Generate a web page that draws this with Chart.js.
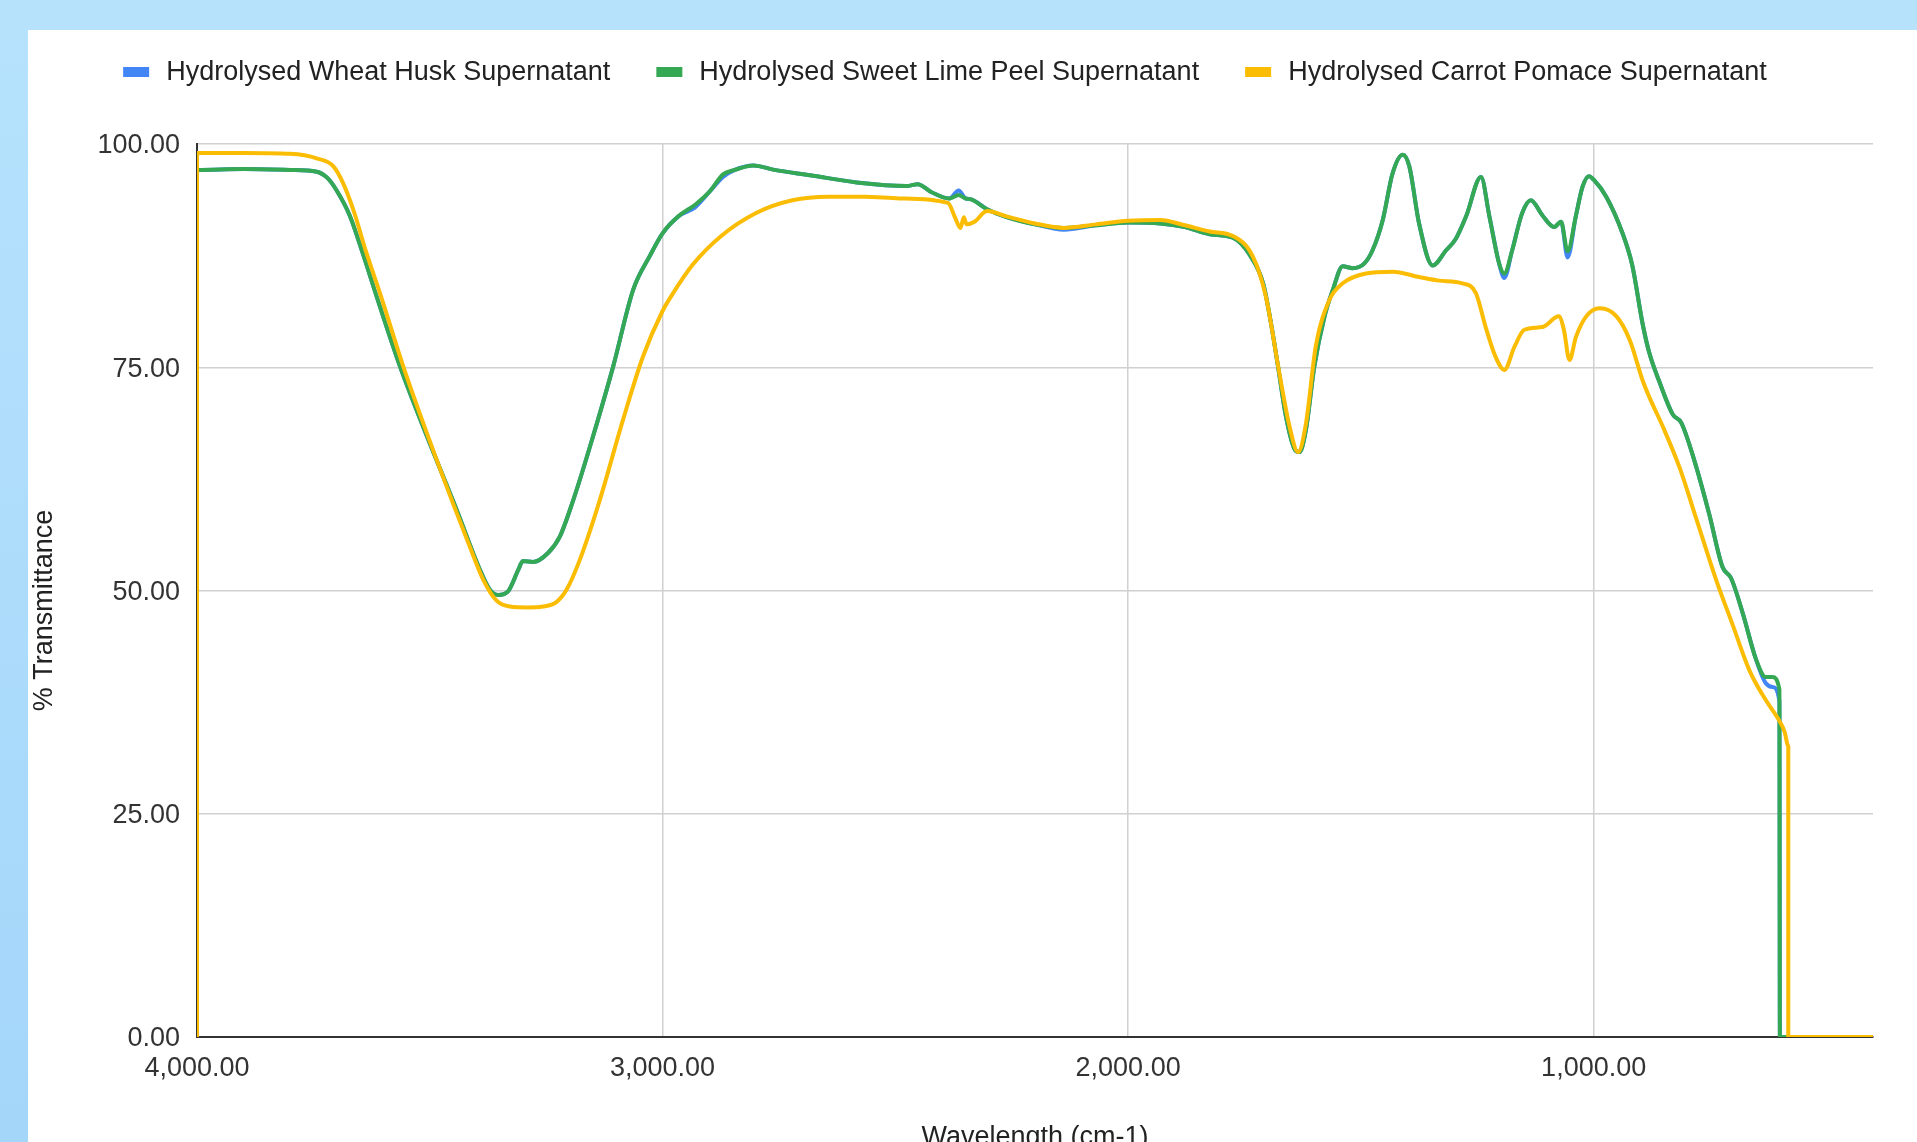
<!DOCTYPE html>
<html>
<head>
<meta charset="utf-8">
<title>FTIR transmittance of hydrolysed supernatants</title>
<script src="https://cdn.jsdelivr.net/npm/chart.js@4/dist/chart.umd.min.js"></script>
<style>
  html, body { margin: 0; padding: 0; width: 1917px; height: 1142px; overflow: hidden; background: #b6e2fc; }
  #edge { position: absolute; left: 0; top: 0; width: 28px; height: 1142px; background: linear-gradient(#b6e2fc, #a4d6fa); }
  #panel { position: absolute; left: 28px; top: 30px; right: 0; bottom: 0; background: #ffffff; }
  #chart { position: absolute; left: 0; top: 0; }
</style>
</head>
<body>
<div id="edge"></div>
<div id="panel"></div>
<canvas id="chart" width="1917" height="1142"></canvas>
<script>
// Series names (legend order)
const seriesNames = [
  'Hydrolysed Wheat Husk Supernatant',
  'Hydrolysed Sweet Lime Peel Supernatant',
  'Hydrolysed Carrot Pomace Supernatant'
];
const seriesColors = ['#4285F4', '#34A853', '#FBBC04'];

// Wheat husk: wavenumber (cm-1) and % transmittance
const wheatWave = [4000, 4000, 3900, 3800, 3743, 3720, 3700, 3672, 3643, 3614, 3564, 3514, 3442, 3392, 3371, 3353, 3332, 3310, 3300, 3278, 3246, 3221, 3192, 3156, 3106, 3063, 3027, 3000, 2966, 2930, 2900, 2870, 2845, 2805, 2760, 2683, 2583, 2476, 2452, 2422, 2384, 2364, 2349, 2337, 2303, 2261, 2200, 2138, 2069, 2000, 1931, 1878, 1825, 1775, 1739, 1710, 1693, 1678, 1661, 1643, 1632, 1618, 1600, 1578, 1560, 1539, 1518, 1493, 1475, 1453, 1432, 1410, 1396, 1375, 1346, 1317, 1296, 1274, 1242, 1224, 1203, 1192, 1175, 1154, 1135, 1110, 1085, 1070, 1056, 1038, 1024, 1010, 1000, 973, 938, 917, 895, 881, 859, 830, 812, 784, 752, 723, 705, 680, 652, 630, 616, 601, 600, 400];
const wheatT = [0, 97.1, 97.2, 97.1, 96.9, 96.2, 94.8, 92.0, 87.6, 82.9, 75.1, 68.3, 59.0, 52.3, 50.1, 49.5, 49.9, 52.3, 53.3, 53.2, 54.2, 56.0, 60.1, 66.1, 75.1, 83.7, 87.5, 90.0, 91.9, 92.9, 94.6, 96.3, 97.1, 97.6, 97.1, 96.5, 95.7, 95.3, 95.5, 94.6, 93.9, 94.8, 93.9, 93.8, 92.7, 91.8, 91.0, 90.4, 90.9, 91.2, 91.1, 90.7, 89.9, 89.5, 87.6, 84.4, 79.9, 75.1, 69.5, 65.9, 65.5, 68.0, 75.1, 80.7, 83.7, 86.3, 86.1, 86.6, 88.1, 91.5, 96.7, 98.8, 97.5, 91.1, 86.4, 88.1, 89.4, 91.9, 96.3, 91.9, 86.6, 85.0, 88.1, 92.2, 93.7, 92.0, 90.7, 91.3, 87.3, 92.0, 95.2, 96.4, 96.0, 94.1, 90.0, 86.4, 79.9, 76.7, 73.4, 69.7, 68.8, 64.6, 58.6, 52.6, 51.4, 47.5, 42.4, 39.6, 39.2, 37.6, 0, 0];

// Sweet lime peel: wavenumber (cm-1) and % transmittance
const limeWave = [4000, 4000, 3900, 3800, 3743, 3720, 3700, 3672, 3643, 3614, 3564, 3514, 3442, 3392, 3371, 3353, 3332, 3310, 3300, 3278, 3246, 3221, 3192, 3156, 3106, 3063, 3027, 3000, 2966, 2930, 2900, 2870, 2845, 2805, 2760, 2683, 2583, 2476, 2452, 2422, 2384, 2364, 2349, 2337, 2303, 2261, 2200, 2138, 2069, 2000, 1931, 1878, 1825, 1775, 1739, 1710, 1693, 1678, 1661, 1643, 1632, 1618, 1600, 1578, 1560, 1539, 1518, 1493, 1475, 1453, 1432, 1410, 1396, 1375, 1346, 1317, 1296, 1274, 1242, 1224, 1203, 1192, 1175, 1154, 1135, 1110, 1085, 1070, 1056, 1038, 1024, 1010, 1000, 973, 938, 917, 895, 881, 859, 830, 812, 784, 752, 723, 705, 680, 652, 630, 616, 601, 600, 400];
const limeT = [0, 97.1, 97.2, 97.1, 96.9, 96.2, 94.8, 92.0, 87.6, 82.9, 75.1, 68.3, 59.0, 52.3, 50.1, 49.5, 49.9, 52.3, 53.3, 53.2, 54.2, 56.0, 60.1, 66.1, 75.1, 83.7, 87.5, 90.0, 91.9, 93.2, 94.6, 96.6, 97.1, 97.6, 97.1, 96.5, 95.7, 95.3, 95.5, 94.6, 93.9, 94.3, 93.9, 93.8, 92.7, 91.8, 91.0, 90.6, 90.9, 91.2, 91.1, 90.7, 89.9, 89.5, 87.6, 84.4, 79.9, 75.1, 69.5, 65.9, 65.5, 68.0, 75.1, 80.7, 83.7, 86.3, 86.1, 86.6, 88.1, 91.5, 96.7, 98.8, 97.5, 91.1, 86.4, 88.1, 89.4, 91.9, 96.3, 91.9, 86.6, 85.5, 88.1, 92.2, 93.7, 92.0, 90.7, 91.3, 88.0, 92.0, 95.2, 96.4, 96.0, 94.1, 90.0, 86.4, 79.9, 76.7, 73.4, 69.7, 68.8, 64.6, 58.6, 52.6, 51.4, 47.5, 42.4, 40.3, 40.3, 38.9, 0, 0];

// Carrot pomace: wavenumber (cm-1) and % transmittance
const carrotWave = [4000, 4000, 3900, 3800, 3743, 3707, 3686, 3664, 3636, 3607, 3557, 3485, 3414, 3385, 3357, 3328, 3290, 3257, 3228, 3206, 3178, 3135, 3085, 3042, 3000, 2981, 2935, 2874, 2798, 2721, 2644, 2567, 2491, 2387, 2372, 2360, 2353, 2347, 2330, 2303, 2261, 2200, 2138, 2069, 2000, 1931, 1878, 1825, 1775, 1732, 1704, 1675, 1653, 1635, 1618, 1597, 1568, 1539, 1489, 1432, 1375, 1332, 1282, 1253, 1232, 1211, 1192, 1170, 1149, 1110, 1075, 1064, 1052, 1038, 1016, 987, 951, 923, 894, 880, 851, 815, 780, 737, 701, 665, 630, 601, 590, 582, 582, 400];
const carrotT = [0, 99.0, 99.0, 98.9, 98.4, 97.5, 95.6, 92.6, 87.8, 83.3, 75.1, 64.6, 54.9, 51.2, 48.9, 48.2, 48.1, 48.2, 48.7, 50.1, 53.4, 60.1, 69.1, 76.2, 81.3, 83.0, 86.5, 89.7, 92.3, 93.7, 94.1, 94.1, 93.9, 93.4, 91.8, 90.6, 91.8, 91.0, 91.3, 92.5, 91.9, 91.1, 90.6, 91.0, 91.4, 91.5, 90.9, 90.2, 89.7, 87.4, 82.9, 74.3, 68.3, 65.5, 68.7, 77.3, 82.5, 84.4, 85.5, 85.7, 85.1, 84.7, 84.4, 83.3, 79.5, 76.2, 74.7, 77.3, 79.2, 79.5, 80.7, 79.2, 75.8, 78.4, 80.7, 81.6, 80.7, 78.1, 73.4, 71.6, 68.3, 63.7, 58.1, 51.2, 46.1, 41.0, 37.7, 35.4, 34.2, 32.6, 0, 0];

// Axis ticks
const xTickValues = [4000, 3000, 2000, 1000];
const yTickValues = [0, 25, 50, 75, 100];
const xTitle = 'Wavelength (cm-1)';
const yTitle = '% Transmittance';

const FONT = 'Arial, "Liberation Sans", sans-serif';
Chart.defaults.font.family = FONT;

const toPoints = (wave, vals) => wave.map((w, i) => ({ x: w, y: vals[i] }));
const fmt = v => Number(v).toLocaleString('en-US', { minimumFractionDigits: 2, maximumFractionDigits: 2 });

// Legend row across the top of the panel
const topLegend = {
  id: 'topLegend',
  afterDraw(chart) {
    const ctx = chart.ctx;
    ctx.save();
    ctx.font = '27px ' + FONT;
    ctx.textBaseline = 'middle';
    ctx.textAlign = 'left';
    const boxW = 26, boxH = 10, textGap = 17, itemGap = 46, cy = 72, cx = 945;
    const items = chart.data.datasets.map(ds => ({ text: ds.label, color: ds.borderColor, w: ctx.measureText(ds.label).width }));
    const total = items.reduce((s, it) => s + boxW + textGap + it.w, 0) + itemGap * (items.length - 1);
    let x = cx - total / 2;
    items.forEach(it => {
      ctx.fillStyle = it.color;
      ctx.fillRect(x, cy - boxH / 2, boxW, boxH);
      ctx.fillStyle = '#222222';
      ctx.fillText(it.text, x + boxW + textGap, cy + 1);
      x += boxW + textGap + it.w + itemGap;
    });
    ctx.restore();
  }
};

// Vertical axis title
const yAxisTitle = {
  id: 'yAxisTitle',
  afterDraw(chart) {
    const { ctx, chartArea } = chart;
    ctx.save();
    ctx.font = '27px ' + FONT;
    ctx.fillStyle = '#222222';
    ctx.textAlign = 'center';
    ctx.textBaseline = 'middle';
    ctx.translate(chartArea.left - 152, (chartArea.top + chartArea.bottom) / 2 + 20);
    ctx.rotate(-Math.PI / 2);
    ctx.fillText(yTitle, 0, 0);
    ctx.restore();
  }
};

const dataWaves = [wheatWave, limeWave, carrotWave];
const dataVals = [wheatT, limeT, carrotT];

new Chart(document.getElementById('chart'), {
  type: 'line',
  data: {
    datasets: seriesNames.map((name, i) => ({
      label: name,
      data: toPoints(dataWaves[i], dataVals[i]),
      borderColor: seriesColors[i],
      backgroundColor: seriesColors[i],
      borderWidth: 4,
      pointRadius: 0,
      cubicInterpolationMode: 'monotone',
      borderJoinStyle: 'round',
      borderCapStyle: 'round',
      fill: false,
      order: 3 - i
    }))
  },
  options: {
    responsive: false,
    animation: false,
    devicePixelRatio: 1,
    layout: { padding: { top: 144, right: 44, left: 0, bottom: 0 } },
    plugins: {
      legend: { display: false },
      tooltip: { enabled: false }
    },
    scales: {
      x: {
        type: 'linear',
        reverse: true,
        min: 400,
        max: 4000,
        afterBuildTicks: s => { s.ticks = xTickValues.map(v => ({ value: v })); },
        afterFit: s => { s.height = 105; },
        ticks: { callback: fmt, color: '#333333', font: { size: 27 }, padding: 15, maxRotation: 0, autoSkip: false },
        grid: {
          drawTicks: false,
          lineWidth: 1.5,
          color: c => (c.tick && c.tick.value === 4000) ? 'rgba(0,0,0,0)' : '#d0d0d0'
        },
        border: { display: true, color: '#333333', width: 2 },
        title: { display: true, text: xTitle, color: '#222222', font: { size: 27, lineHeight: 0.3 }, padding: 0 }
      },
      y: {
        min: 0,
        max: 100,
        afterBuildTicks: s => { s.ticks = yTickValues.map(v => ({ value: v })); },
        afterFit: s => { s.width = 197; },
        ticks: { callback: fmt, color: '#333333', font: { size: 27 }, padding: 17, labelOffset: 2 },
        grid: {
          drawTicks: false,
          lineWidth: 1.5,
          color: c => (c.tick && c.tick.value === 0) ? 'rgba(0,0,0,0)' : '#d0d0d0'
        },
        border: { display: true, color: '#333333', width: 2 }
      }
    }
  },
  plugins: [topLegend, yAxisTitle]
});
</script>
</body>
</html>
